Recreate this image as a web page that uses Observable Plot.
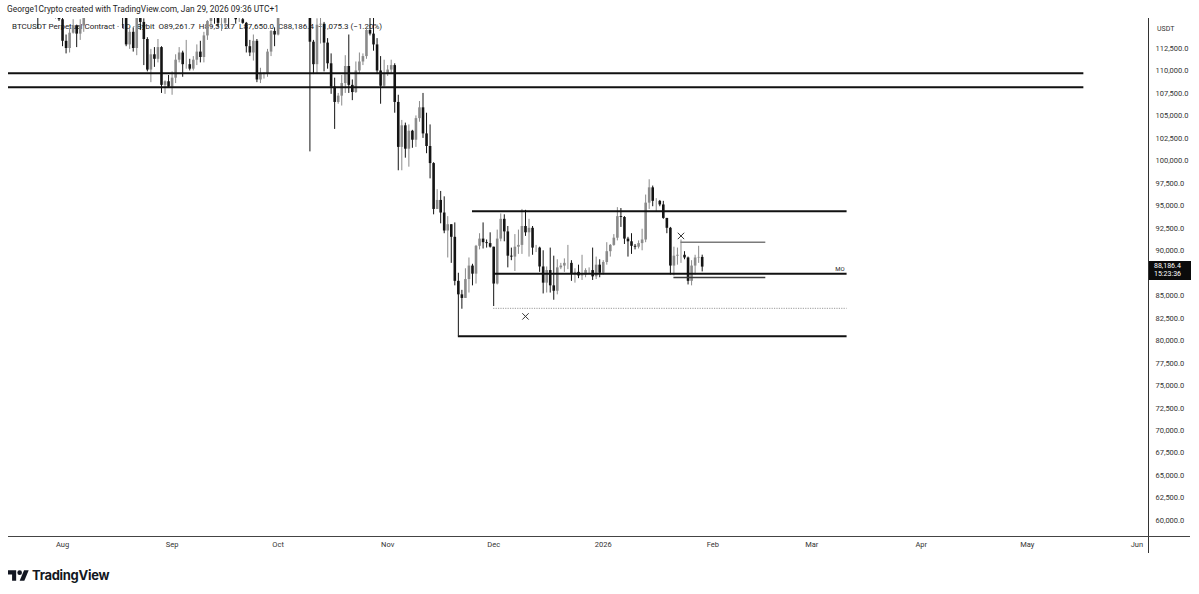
<!DOCTYPE html>
<html>
<head>
<meta charset="utf-8">
<script src="https://cdn.jsdelivr.net/npm/d3@7"></script>
<script src="https://cdn.jsdelivr.net/npm/@observablehq/plot@0.6"></script>
<style>
  html, body { margin: 0; padding: 0; background: #fff; }
  body { width: 1199px; height: 594px; overflow: hidden; font-family: Roboto, "Liberation Sans", sans-serif; }
  #wrap { position: relative; width: 1199px; height: 556px; }
  .hdr { position: absolute; white-space: pre; z-index: 0; }
  #hdr1 { left: 7px; top: 4px; color: #1e1e1e; font-size: 8.4px; }
  #hdr2 { left: 12px; top: 22px; color: #222; font-size: 8px; }
  #chart { position: relative; z-index: 1; }
  #usdt { position: absolute; left: 1157px; top: 25px; font-size: 7px; color: #333; z-index: 2; }
  #pricebox { position: absolute; left: 1149px; width: 42px; height: 19px; background: #0b0b0b; color: #fff;
              font-size: 7px; line-height: 8.5px; text-align: left; padding-left: 5px; box-sizing: border-box; z-index: 3; padding-top: 1px; }
  .vline { position: absolute; left: 1148px; top: 18px; width: 1px; height: 535px; background: #333; z-index: 2; }
  .hline { position: absolute; left: 8px; top: 536px; width: 1182px; height: 1px; background: #444; z-index: 2; }
  #logo { position: absolute; left: 8px; top: 567px; display: flex; align-items: center; gap: 3px;
          font-family: Inter, Roboto, sans-serif; font-weight: 700; font-size: 13px; color: #131722; letter-spacing: -0.3px; }
</style>
</head>
<body>
<div id="wrap">
  <div class="hdr" id="hdr1">George1Crypto created with TradingView.com, Jan 29, 2026 09:36 UTC+1</div>
  <div class="hdr" id="hdr2">BTCUSDT Perpetual Contract · 1D · Bybit  O89,261.7  H89,512.7  L87,650.0  C88,186.4  −1,075.3 (−1.20%)</div>
  <div id="chart"></div>
  <div id="usdt">USDT</div>
  <div class="vline"></div>
  <div class="hline"></div>
</div>
<div id="logo">
  <svg width="21" height="14" viewBox="0 0 36 24"><path d="M14 22H7V11H0V4h14v18z" fill="#131722"/><path d="M28 22h-8l7.5-18h8L28 22z" fill="#131722"/><circle cx="20" cy="8" r="4" fill="#131722"/></svg>
  <span>TradingView</span>
</div>
<script>
// ---- Daily candles, BTCUSDT perpetual (Bybit), 2025-07-16 .. 2026-01-29 ----
const firstDay = "2025-07-16";
const lastDay = "2026-01-29";

const opens = [
  // Jul 16-31
  117700,118700,119300,117900,117900,117300,117400,119900,118700,118300,117600,117900,119400,118000,117900,117800,
  // Aug
  115700,113300,112500,114200,115000,114100,115000,117500,116600,116500,119300,118700,120100,123300,118300,117400,117500,117400,116200,112900,114300,112500,116900,115400,113500,110100,111800,111300,112600,108400,108800,
  // Sep
  108200,109200,111200,112000,110700,110700,110200,111200,112100,111500,113900,115500,116100,115900,115300,115300,116800,116400,117100,115700,115700,115300,112700,112000,113300,109000,109700,109700,112100,114400,
  // Oct
  114000,118600,120500,122300,122400,123500,124700,121400,123300,121700,113200,110700,115100,115200,113100,110800,108200,106500,107200,108600,110500,108400,107600,110000,111000,111600,114500,114100,112900,110000,108300,
  // Nov
  109600,110100,110600,106500,101500,103900,101300,103300,102300,104700,105900,103000,101600,99700,94600,95600,94200,92200,92900,91500,86600,85100,84700,86800,88300,87400,90500,91300,90900,90800,
  // Dec
  90400,86300,91300,93500,92100,89400,89300,90400,90600,92700,92000,92500,90300,90300,88200,86400,87800,86100,85500,88100,88300,88600,88600,87400,87600,87200,87300,87800,87800,87100,88400,
  // Jan
  87500,88700,89900,90600,91400,93800,93700,91300,91000,90500,90400,90800,91200,95300,97000,95500,95500,95100,93600,92500,88300,89400,89500,89500,89200,86600,88300,89200,89261.7
];
const highs = [
  120000,120900,120900,118600,118900,119700,120200,120100,119500,118500,118300,119800,119800,119300,118800,118900,
  116100,114000,114700,115700,115100,115700,117700,117900,117900,119300,122300,120300,123700,124500,119200,117900,118600,117600,116800,114600,114800,117400,117000,115800,113700,112400,112600,113500,112700,108900,109500,
  109900,111800,112600,112200,113400,111300,111600,112900,113300,114300,115600,116800,116400,116100,116800,117000,117300,117900,117400,116300,115900,115400,113400,114000,113500,110300,109800,112400,114500,114800,
  118600,121000,123900,122800,125700,126200,125100,124200,123700,122500,113400,115800,116000,115400,113600,111900,109200,107500,109500,111700,114000,109000,111000,112000,111900,114900,116400,116100,113600,111600,111200,
  110600,111200,110800,107300,104500,104200,104000,103400,105000,106600,107500,105300,104000,99800,96800,96600,96000,93800,92900,93100,87500,85600,88000,89200,88500,90600,91900,93100,91200,92000,
  90400,92300,94100,94000,92700,90300,91800,92300,94600,94500,93500,92700,90600,90400,90000,88200,90300,89400,89000,88600,89100,90600,88900,88000,88400,89500,88000,88100,90300,89300,89000,
  88900,90900,90700,91800,94800,94700,93800,91500,91900,90700,91100,92400,96200,97900,97200,95800,95600,95500,93600,92600,90400,90300,91200,89900,89300,88900,89500,90500,89512.7
];
const lows = [
  116000,117800,116800,117300,116500,116500,116100,117300,117400,114700,117200,117800,117400,116800,115800,115500,
  112700,111900,112000,114100,112600,113400,114300,115900,116300,116500,118100,118200,118900,117200,116800,117200,117300,114700,112700,112400,112100,111700,114500,110600,109900,108700,110400,110900,107500,107400,108100,
  107300,108600,110900,109300,110200,110000,110000,110600,110900,110900,113400,114600,115200,114800,114400,114800,114700,116200,115200,115400,115200,112000,111600,111100,108700,108600,109100,109300,111600,112700,
  113900,118300,119300,121500,122000,123100,120600,121100,119700,101000,109600,109700,113000,109900,110200,107400,103500,106300,106100,107500,107500,106700,107500,109700,110600,111300,113900,112200,109600,106300,108200,
  109400,109600,105300,98900,98900,100300,99300,101400,101500,104300,102500,100800,98000,94000,94600,93000,91900,89200,88600,86100,80500,83500,84700,85300,86100,86300,90100,90200,90300,90300,
  83800,86200,91000,91000,88100,88900,87700,89600,89600,91600,89300,89500,89800,87600,85200,85300,85300,84500,85100,87900,87600,87900,86600,86400,86900,86700,87000,87400,86700,86800,87000,
  87300,88400,89300,90500,91100,92600,90700,89300,89600,90100,90200,90000,90900,94600,94900,94300,94900,93500,91900,87300,87200,88400,88600,89000,86200,86100,87300,88600,87650
];
const closes = [
  118700,119300,117900,117900,117300,117400,119900,118700,118300,117600,117900,119400,118000,117900,117800,115700,
  113300,112500,114200,115000,114100,115000,117500,116600,116500,119300,118700,120100,123300,118300,117400,117500,117400,116200,112900,114300,112500,116900,115400,113500,110100,111800,111300,112600,108400,108800,108200,
  109200,111200,112000,110700,110700,110200,111200,112100,111500,113900,115500,116100,115900,115300,115300,116800,116400,117100,115700,115700,115300,112700,112000,113300,109000,109700,109700,112100,114400,114000,
  118600,120500,122300,122400,123500,124700,121400,123300,121700,113200,110700,115100,115200,113100,110800,108200,106500,107200,108600,110500,108400,107600,110000,111000,111600,114500,114100,112900,110000,108300,109600,
  110100,110600,106500,101500,103900,101300,103300,102300,104700,105900,103000,101600,99700,94600,95600,94200,92200,92900,91500,86600,85100,84700,86800,88300,87400,90500,91300,90900,90800,90400,
  86300,91300,93500,92100,89400,89300,90400,90600,92700,92000,92500,90300,90300,88200,86400,87800,86100,85500,88100,88300,88600,88600,87400,87600,87200,87300,87800,87800,87100,88400,87500,
  88700,89900,90600,91400,93800,93700,91300,91000,90500,90400,90800,91200,95300,97000,95500,95500,95100,93600,92500,88300,89400,89500,89500,89200,86600,88300,89200,89261.7,88186.4
];

// ---- Drawn levels (horizontal lines) ----
const levelPrices = [109750, 108200, 94400, 87440, 80500, 90950, 87030];
const levelStarts = ["2025-07-01", "2025-07-01", "2025-11-25", "2025-12-01", "2025-11-21", "2026-01-23", "2026-01-21"];
const levelEnds   = ["2026-05-17", "2026-05-17", "2026-03-11", "2026-03-11", "2026-03-11", "2026-02-16", "2026-02-16"];
const levelColors = ["#111", "#111", "#111", "#111", "#111", "#7a7a7a", "#3a3a3a"];
const levelWidths = [2, 2, 2, 2, 2, 1.5, 1.5];

const dottedPrice = 83600;
const dottedStart = "2025-12-01";
const dottedEnd = "2026-03-11";

const crossDates = ["2025-12-10", "2026-01-23"];
const crossPrices = [82700, 91650];

const labelText = ["MO"];
const labelDates = ["2026-03-09"];
const labelPrices = [87440];

// ---- Axes (87,500.0 sits under the last-price label, so it is not listed) ----
const monthTicks = ["2025-08-01","2025-09-01","2025-10-01","2025-11-01","2025-12-01","2026-01-01","2026-02-01","2026-03-01","2026-04-01","2026-05-01","2026-06-01"];
const monthLabels = ["Aug","Sep","Oct","Nov","Dec","2026","Feb","Mar","Apr","May","Jun"];
const priceTicks = [60000,62500,65000,67500,70000,72500,75000,77500,80000,82500,85000,90000,92500,95000,97500,100000,102500,105000,107500,110000,112500];
const xDomain = ["2025-07-16T17:00:00Z", "2026-06-04T07:00:00Z"];
const yDomain = [58220, 115837];

// ---- Build ----
const UP = "#8a8a8a", DOWN = "#141414";
const dates = d3.utcDays(new Date(firstDay), d3.utcDay.offset(new Date(lastDay), 1));
const candles = dates.map((date, i) => ({
  date, open: opens[i], high: highs[i], low: lows[i], close: closes[i],
  color: closes[i] >= opens[i] ? UP : DOWN
}));
const levels = levelPrices.map((p, i) => ({
  price: p, start: new Date(levelStarts[i]), end: new Date(levelEnds[i]), color: levelColors[i], w: levelWidths[i]
}));
const tickDates = monthTicks.map(d => new Date(d));
const tickLabel = new Map(monthTicks.map((d, i) => [new Date(d).getTime(), monthLabels[i]]));

const chart = Plot.plot({
  width: 1199,
  height: 556,
  marginLeft: 8,
  marginRight: 51,
  marginTop: 18,
  marginBottom: 20,
  style: { background: "transparent", fontFamily: "Roboto, 'Liberation Sans', sans-serif", fontSize: "7.5px", color: "#333" },
  x: { type: "utc", domain: xDomain.map(d => new Date(d)), ticks: tickDates, tickFormat: d => tickLabel.get(d.getTime()), tickSize: 0, tickPadding: 5, label: null },
  y: { domain: yDomain, axis: "right", ticks: priceTicks, tickFormat: d3.format(",.1f"), tickSize: 0, tickPadding: 7, label: null },
  color: { type: "identity" },
  marks: [
    Plot.ruleX(candles, { x: "date", y1: "low", y2: "high", stroke: "color", strokeWidth: 1, clip: true }),
    Plot.ruleX(candles, { x: "date", y1: "open", y2: "close", stroke: "color", strokeWidth: 2.6, clip: true }),
    Plot.ruleY([0], { y: () => dottedPrice, x1: () => new Date(dottedStart), x2: () => new Date(dottedEnd), stroke: "#9a9a9a", strokeWidth: 1, strokeDasharray: "1.2,1.2" }),
    Plot.ruleY(levels, { y: "price", x1: "start", x2: "end", stroke: "color", strokeWidth: "w", clip: true }),
    Plot.dot(crossDates.map((d, i) => ({ date: new Date(d), price: crossPrices[i] })), { x: "date", y: "price", symbol: "times", r: 3, stroke: "#333", strokeWidth: 1 }),
    Plot.text(labelText.map((t, i) => ({ t, date: new Date(labelDates[i]), price: labelPrices[i] })), { x: "date", y: "price", text: "t", dy: -5, fontSize: 6, fill: "#222" })
  ]
});
document.getElementById("chart").appendChild(chart);

// current price label on the price axis
const yScale = chart.scale("y");
const lastClose = closes[closes.length - 1];
const box = document.createElement("div");
box.id = "pricebox";
box.innerHTML = d3.format(",.1f")(lastClose) + "<br>15:23:36";
box.style.top = (yScale.apply(lastClose) - 6) + "px";
document.getElementById("wrap").appendChild(box);
</script>
</body>
</html>
